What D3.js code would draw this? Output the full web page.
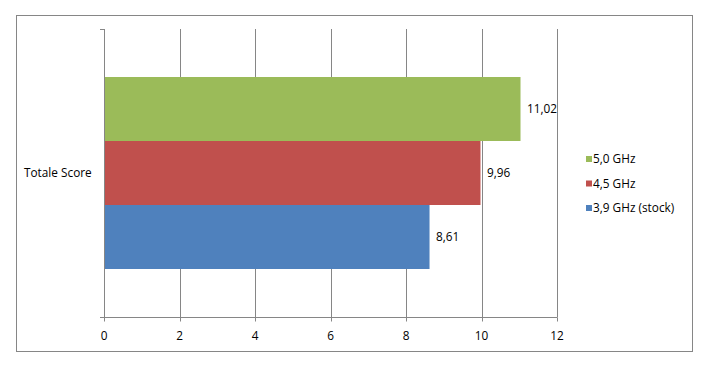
<!DOCTYPE html>
<html><head><meta charset="utf-8">
<script src="https://cdn.jsdelivr.net/npm/d3@7"></script>
<style>body{margin:0;background:#fff;} text{font-family:"Open Sans","Noto Sans",sans-serif;font-size:11.8px;fill:#000;}</style>
</head><body>
<svg id="c" width="704" height="384"></svg>
<script>
const categories = ["Totale Score"];
const seriesNames = ["5,0 GHz", "4,5 GHz", "3,9 GHz (stock)"];
const seriesValues = [11.02, 9.96, 8.61];
const valueLabels = ["11,02", "9,96", "8,61"];
const colors = ["#9BBB59", "#C0504D", "#4F81BD"];
const xTicks = [0, 2, 4, 6, 8, 10, 12];

(function () {
const svg = d3.select("#c");
svg.append("rect").attr("x", 16.5).attr("y", 15.5).attr("width", 676).attr("height", 336)
  .attr("fill", "#fff").attr("stroke", "#868686").attr("stroke-width", 1);

const pl = 104, pr = 557, pt = 29, pb = 317;
const x = d3.scaleLinear().domain([0, 12]).range([pl, pr]);
const y = d3.scaleBand().domain(categories).range([pt, pb]);

// gridlines
svg.append("g").selectAll("line").data(xTicks.slice(1)).join("line")
  .attr("x1", d => Math.round(x(d)) + 0.5).attr("x2", d => Math.round(x(d)) + 0.5)
  .attr("y1", pt).attr("y2", pb).attr("stroke", "#868686");

// bars
const groupTop = y(categories[0]) + y.bandwidth() / 6;
const barH = y.bandwidth() * 2 / 3 / seriesNames.length;
const sb = d3.scaleBand().domain(seriesNames).range([groupTop, groupTop + barH * seriesNames.length]);
svg.append("g").selectAll("rect").data(seriesNames).join("rect")
  .attr("x", x(0) + 0.5).attr("y", d => sb(d))
  .attr("width", (d, i) => x(seriesValues[i]) - x(0)).attr("height", sb.bandwidth())
  .attr("fill", (d, i) => colors[i]);

svg.append("g").selectAll("text").data(seriesNames).join("text")
  .attr("x", (d, i) => x(seriesValues[i]) + 7).attr("y", d => sb(d) + sb.bandwidth() / 2)
  .attr("dy", "0.35em").text((d, i) => valueLabels[i]);

// x axis
const xa = svg.append("g").attr("transform", `translate(0,${pb + 0.5})`);
xa.append("line").attr("x1", 100).attr("x2", pr + 0.5).attr("stroke", "#868686");
xa.selectAll("line.t").data(xTicks).join("line").attr("class", "t")
  .attr("x1", d => Math.round(x(d)) + 0.5).attr("x2", d => Math.round(x(d)) + 0.5)
  .attr("y1", 0).attr("y2", 4).attr("stroke", "#868686");
xa.selectAll("text").data(xTicks).join("text")
  .attr("x", d => x(d)).attr("y", 18).attr("dy", "0.35em").attr("text-anchor", "middle").text(d => d);

// y axis
const ya = svg.append("g");
ya.append("line").attr("x1", pl + 0.5).attr("x2", pl + 0.5).attr("y1", pt).attr("y2", pb).attr("stroke", "#868686");
ya.selectAll("line.t").data([pt, pb]).join("line").attr("class", "t")
  .attr("x1", 100).attr("x2", pl + 0.5).attr("y1", d => d + 0.5).attr("y2", d => d + 0.5).attr("stroke", "#868686");
ya.selectAll("text").data(categories).join("text")
  .attr("x", 24).attr("y", d => y(d) + y.bandwidth() / 2).attr("dy", "0.35em").text(d => d);

// legend
const lg = svg.append("g");
const items = lg.selectAll("g").data(seriesNames).join("g")
  .attr("transform", (d, i) => `translate(586,${159 + i * 24.5})`);
items.append("rect").attr("x", 0).attr("y", -3).attr("width", 6).attr("height", 6).attr("fill", (d, i) => colors[i]);
items.append("text").attr("x", 7).attr("y", 0).attr("dy", "0.35em").text(d => d);
})();
</script>
</body></html>
